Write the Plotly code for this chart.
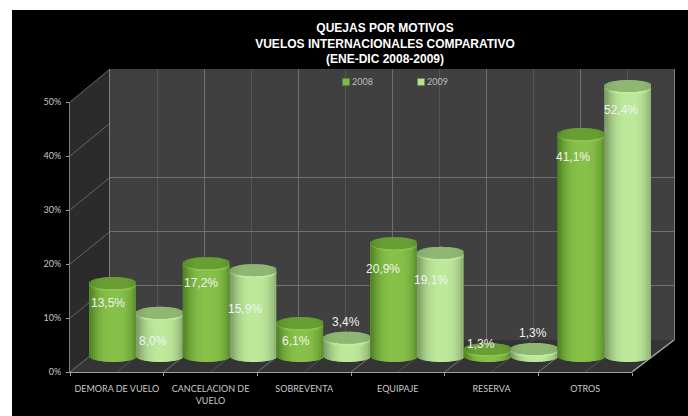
import numpy as np
import plotly.graph_objects as go

categories = ["DEMORA DE VUELO", "CANCELACION DE<br>VUELO", "SOBREVENTA", "EQUIPAJE", "RESERVA", "OTROS"]
values_2008 = [13.5, 17.2, 6.1, 20.9, 1.3, 41.1]
values_2009 = [8.0, 15.9, 3.4, 19.1, 1.3, 52.4]
y_tick_values = [0, 10, 20, 30, 40, 50]
y_tick_labels = ["0%", "10%", "20%", "30%", "40%", "50%"]
back_wall_grid_values = [0, 10, 20, 30, 50]
# pixel offsets of value labels relative to the top of each bar (dx, dy up)
label_dx_2008 = [-4, -5, -4, -10, -6, -8]
label_dy_2008 = [20, 20, 18, 26, -5, 23]
label_dx_2009 = [-6, -8, -1, -9, -1, -7]
label_dy_2009 = [28, 39, -16, 27, -16, 24]

W, H = 688, 416
AXIS_MAX = 50
PX_PER_UNIT = 5.4
FRONT = dict(x0=70, x1=632, y0=372, y1=102)
BACK = dict(x0=110, x1=674, y0=340, y1=69)
BAR_X0, BAR_X1, BAR_BASE = 89, 651, 356
Y_LOW, Y_HIGH = -3, 56
N_STRIPS = 24
RY = 6 / PX_PER_UNIT
RIM = 1.4 / PX_PER_UNIT

dx = lambda p: p / W
dy = lambda p: 1 - p / H


def mix(a, b, t):
    return "rgb(%d,%d,%d)" % tuple(a[i] + (b[i] - a[i]) * t for i in range(3))


SERIES = [
    dict(name="2008", vals=values_2008, dxs=label_dx_2008, dys=label_dy_2008, slot=0,
         edge=(84, 135, 38), mid=(136, 194, 74), cap_e=(86, 140, 40), cap_m=(104, 158, 52), rim=(140, 198, 80)),
    dict(name="2009", vals=values_2009, dxs=label_dx_2009, dys=label_dy_2009, slot=1,
         edge=(128, 160, 104), mid=(190, 234, 156), cap_e=(128, 165, 100), cap_m=(144, 182, 116), rim=(196, 236, 160)),
]

fig = go.Figure()

# frame axes: carries the tick labels
fig.add_trace(go.Scatter(x=categories, y=[None] * 6, mode="markers", showlegend=False, hoverinfo="skip",
                         xaxis="x", yaxis="y"))
# back wall axes
fig.add_trace(go.Scatter(x=[0], y=[None], mode="markers", showlegend=False, hoverinfo="skip",
                         xaxis="x2", yaxis="y2"))

x_pos = np.arange(len(categories))
w = 0.5 / N_STRIPS
for s in SERIES:
    shown = np.minimum(s["vals"], AXIS_MAX)
    for layer in ("body", "rim", "cap"):
        for i in range(N_STRIPS):
            t = -1 + (2 * i + 1) / N_STRIPS
            half = np.sqrt(1 - t * t)
            light = max(0.0, 1 - abs(t - 0.08) ** 2.6)
            if layer == "body":
                base = [-RY * half] * 6
                height = list(shown)
                col = mix(s["edge"], s["mid"], light)
            elif layer == "rim":
                base = list(shown - RY * half - RIM)
                height = [RIM] * 6
                col = mix(s["edge"], s["rim"], min(1, light + 0.25))
            else:
                base = list(shown - RY * half)
                height = [2 * RY * half] * 6
                col = mix(s["cap_e"], s["cap_m"], min(1, light + 0.2))
            fig.add_trace(go.Bar(
                x=x_pos, y=height, base=base, width=w * (1.7 if i < N_STRIPS - 1 else 1.0),
                offset=-0.5 + 0.5 * s["slot"] + i * w,
                marker=dict(color=col, line=dict(width=0)), name=s["name"], showlegend=False,
                hoverinfo="skip", xaxis="x3", yaxis="y3"))

shapes = [
    dict(type="rect", xref="paper", yref="paper", x0=dx(12), x1=1, y0=0, y1=dy(10),
         fillcolor="black", line_width=0, layer="below"),
    dict(type="rect", xref="paper", yref="paper", x0=dx(BACK["x0"]), x1=dx(BACK["x1"]),
         y0=dy(BACK["y0"]), y1=dy(BACK["y1"]), fillcolor="#404040", line_width=0, layer="below"),
]


def poly(points, fill):
    path = "M " + " L ".join(f"{dx(a):.5f},{dy(b):.5f}" for a, b in points) + " Z"
    return dict(type="path", xref="paper", yref="paper", path=path, fillcolor=fill, line_width=0, layer="below")


def seg(a, b, c, d, color, width=1):
    return dict(type="line", xref="paper", yref="paper", x0=dx(a), y0=dy(b), x1=dx(c), y1=dy(d),
                line=dict(color=color, width=width), layer="below")


shapes.append(poly([(FRONT["x0"], FRONT["y1"]), (BACK["x0"], BACK["y1"]), (BACK["x0"], BACK["y0"]),
                    (FRONT["x0"], FRONT["y0"])], "#2b2b2b"))
shapes.append(poly([(FRONT["x0"], FRONT["y0"]), (BACK["x0"], BACK["y0"]), (BACK["x1"], BACK["y0"]),
                    (FRONT["x1"], FRONT["y0"])], "#343434"))
for v in y_tick_values[1:]:
    f = v / AXIS_MAX
    shapes.append(seg(FRONT["x0"], FRONT["y0"] + (FRONT["y1"] - FRONT["y0"]) * f,
                      BACK["x0"], BACK["y0"] + (BACK["y1"] - BACK["y0"]) * f, "#666666"))
for k in range(13):
    f = k / 12
    color = "#777777" if k % 2 == 0 else "#555555"
    shapes.append(seg(FRONT["x0"] + (FRONT["x1"] - FRONT["x0"]) * f, FRONT["y0"],
                      BACK["x0"] + (BACK["x1"] - BACK["x0"]) * f, BACK["y0"], color))
shapes.append(seg(FRONT["x1"], FRONT["y0"], BACK["x1"], BACK["y0"], "#a0a0a0", 1.5))
# legend swatches
for px, col in ((346, "#7fb843"), (421, "#b5df95")):
    shapes.append(dict(type="rect", xref="paper", yref="paper", x0=dx(px - 3.5), x1=dx(px + 3.5),
                       y0=dy(85.5), y1=dy(78.5), fillcolor=col, line=dict(color="#5f8f40", width=0.5), layer="above"))

annotations = []
for s in SERIES:
    shown = np.minimum(s["vals"], AXIS_MAX)
    for i, v in enumerate(s["vals"]):
        annotations.append(dict(
            x=i - 0.25 + 0.5 * s["slot"], y=shown[i], xref="x3", yref="y3", showarrow=False,
            text=f"{v:.1f}%".replace(".", ","), xshift=s["dxs"][i], yshift=-s["dys"][i],
            font=dict(family="Liberation Sans", size=12, color="#f2f2f2")))
for px, s in ((352, SERIES[0]), (427, SERIES[1])):
    annotations.append(dict(x=dx(px), y=dy(82), xref="paper", yref="paper", xanchor="left", yanchor="middle",
                            showarrow=False, text=s["name"], xshift=-2,
                            font=dict(family="Lato", size=9, color="#bdbdbd")))

tick_font = dict(family="Lato", size=9, color="#c8c8c8")
fig.update_layout(
    width=W, height=H, autosize=False, margin=dict(l=0, r=0, t=0, b=0),
    paper_bgcolor="white", plot_bgcolor="rgba(0,0,0,0)", barmode="overlay", showlegend=False,
    font=dict(family="Lato"),
    title=dict(text="QUEJAS POR MOTIVOS<br>VUELOS INTERNACIONALES COMPARATIVO<br>(ENE-DIC 2008-2009)",
               x=385 / W, xanchor="center", xref="paper", y=dy(32), yanchor="top", yref="paper",
               font=dict(family="Liberation Sans", size=12, color="white", weight="bold")),
    shapes=shapes, annotations=annotations,
    xaxis=dict(domain=[dx(FRONT["x0"]), dx(FRONT["x1"])], type="category", categoryorder="array",
               categoryarray=categories, tickson="boundaries", ticks="outside", ticklen=3, tickcolor="#a0a0a0",
               tickangle=0, ticklabelstandoff=8, showline=True, linecolor="#a0a0a0", linewidth=1, showgrid=False,
               tickfont=tick_font, anchor="y", range=[-0.5, 5.5], fixedrange=True, automargin=False),
    yaxis=dict(domain=[dy(FRONT["y0"]), dy(FRONT["y1"])], range=[0, AXIS_MAX], tickvals=y_tick_values,
               ticktext=y_tick_labels, ticks="outside", ticklen=3, tickcolor="#a0a0a0", ticklabelstandoff=3,
               showline=True, linecolor="#808080", showgrid=False, zeroline=False, tickfont=tick_font, anchor="x",
               fixedrange=True, automargin=False),
    xaxis2=dict(domain=[dx(BACK["x0"]), dx(BACK["x1"])], range=[0, 12], dtick=2, tick0=0, showgrid=True,
                gridcolor="#6e6e6e", minor=dict(dtick=1, showgrid=True, gridcolor="#565656"),
                showticklabels=False, ticks="", zeroline=False, anchor="y2", fixedrange=True),
    yaxis2=dict(domain=[dy(BACK["y0"]), dy(BACK["y1"])], range=[0, AXIS_MAX], tickvals=back_wall_grid_values,
                showgrid=True, gridcolor="#707070", showticklabels=False, ticks="", zeroline=False, anchor="x2",
                showline=True, linecolor="#808080", mirror=True, fixedrange=True),
    xaxis3=dict(domain=[dx(BAR_X0), dx(BAR_X1)], range=[-0.5, 5.5], visible=False, anchor="y3", fixedrange=True),
    yaxis3=dict(domain=[dy(BAR_BASE - Y_LOW * PX_PER_UNIT), dy(BAR_BASE - Y_HIGH * PX_PER_UNIT)],
                range=[Y_LOW, Y_HIGH], visible=False, anchor="x3", fixedrange=True),
)

fig.write_html("out.html", config=dict(displayModeBar=False), post_script="document.body.style.margin='0';")
